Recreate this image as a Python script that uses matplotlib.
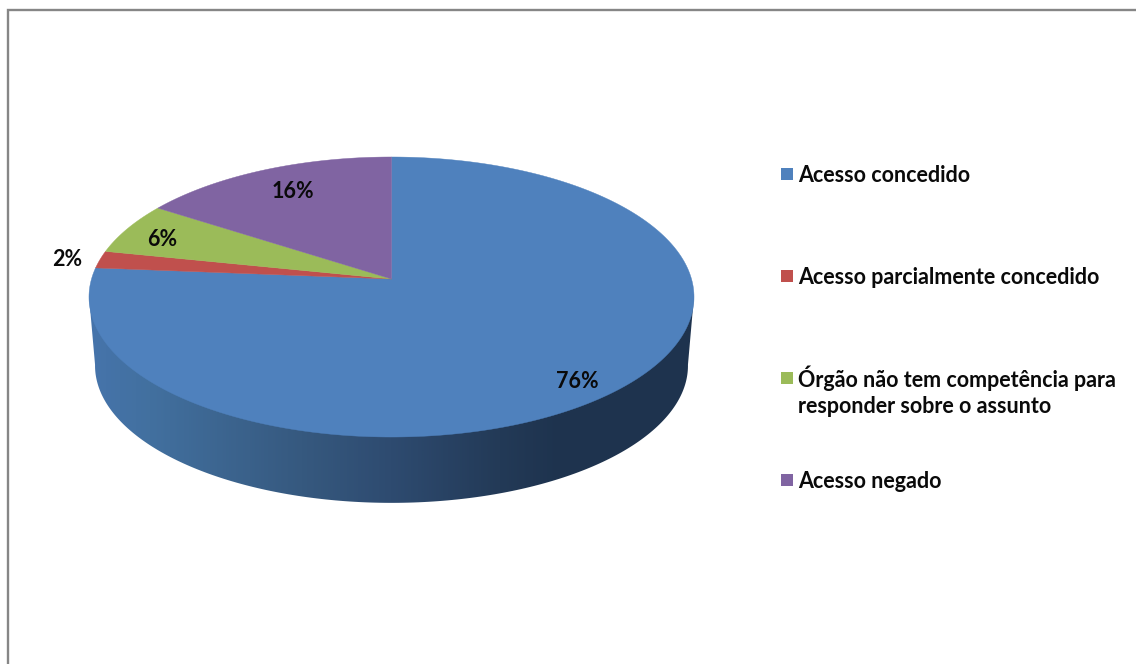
import numpy as np
import matplotlib
matplotlib.use("Agg")
import matplotlib.pyplot as plt
from matplotlib.patches import Polygon, Rectangle
from matplotlib.colors import LinearSegmentedColormap

categories = ["Acesso concedido", "Acesso parcialmente concedido",
              "Órgão não tem competência para\nresponder sobre o assunto", "Acesso negado"]
values = [76.3, 2.0, 6.0, 15.7]
pct_labels = ["76%", "2%", "6%", "16%"]
colors = ["#4F81BD", "#C0504D", "#9BBB59", "#8064A2"]

W, H = 1136, 664
fig = plt.figure(figsize=(W / 100, H / 100), dpi=100, facecolor="white")
ax = fig.add_axes([0, 0, 1, 1])
ax.set_xlim(0, W)
ax.set_ylim(H, 0)
ax.axis("off")

# Perspective projection of the circular pie
AX, AY, A, B, K = 391.5, 279.0, 137.7, 300.0, 0.1286


def project(theta, scale=1.0, dy=0.0):
    u, v = np.sin(theta), np.cos(theta)
    w = 1 + K * v
    return np.column_stack([AX + scale * B * u / w, AY + dy - scale * A * v / w])


# Side wall with horizontal gradient
t = np.radians(np.linspace(97, 263, 200))
bottom = project(t, 0.98, 69)
right_top = project(np.radians([97.0]))
left_top = project(np.radians([263.0]))
wall = np.vstack([right_top, bottom, left_top])
wall_patch = Polygon(wall, closed=True, fc="none", ec="none")
ax.add_patch(wall_patch)
cmap = LinearSegmentedColormap.from_list("wall", [
    (0.00, "#4674AB"), (0.10, "#42709F"), (0.35, "#36597F"),
    (0.50, "#2E4B70"), (0.68, "#233A57"), (0.78, "#1E334E"), (1.00, "#1F344F")])
im = ax.imshow(np.linspace(0, 1, 600)[None, :], extent=(89, 694, 510, 290),
               cmap=cmap, aspect="auto", zorder=1)
im.set_clip_path(wall_patch)
ax.set_xlim(0, W)
ax.set_ylim(H, 0)

# Top slices, clockwise from 12 o'clock
edges = np.radians(np.cumsum([0] + values) / sum(values) * 360)
for i, col in enumerate(colors):
    th = np.linspace(edges[i], edges[i + 1], 300)
    pts = np.vstack([[AX, AY], project(th)])
    ax.add_patch(Polygon(pts, closed=True, fc=col, ec=col, lw=0.3, zorder=2))

font = dict(family="Lato", fontweight="bold", color="#0a0a0a", zorder=5)

# Data labels
label_pos = [(577, 381), (67, 259), (162, 239), (293, 191)]
for lab, (x, y) in zip(pct_labels, label_pos):
    ax.text(x, y, lab, ha="center", va="center", fontsize=15.5, **font)

# Legend
legend_y = [174, 276, 378, 480]
line_offset = [1.5, 1.5, 13.5, 1.5]
for cat, col, y, off in zip(categories, colors, legend_y, line_offset):
    ax.add_patch(Rectangle((781, y - 6), 12, 12, fc=col, ec="none", zorder=3))
    ax.text(798, y + off - 0.5, cat, ha="left", va="center", fontsize=15.5,
            linespacing=1.27, **font)

# Chart frame (left and top visible)
ax.plot([8, 8, W], [H, 10, 10], color="#868686", lw=1.7, solid_joinstyle="miter",
        clip_on=False, zorder=6)

fig.savefig("out.png", dpi=100)
